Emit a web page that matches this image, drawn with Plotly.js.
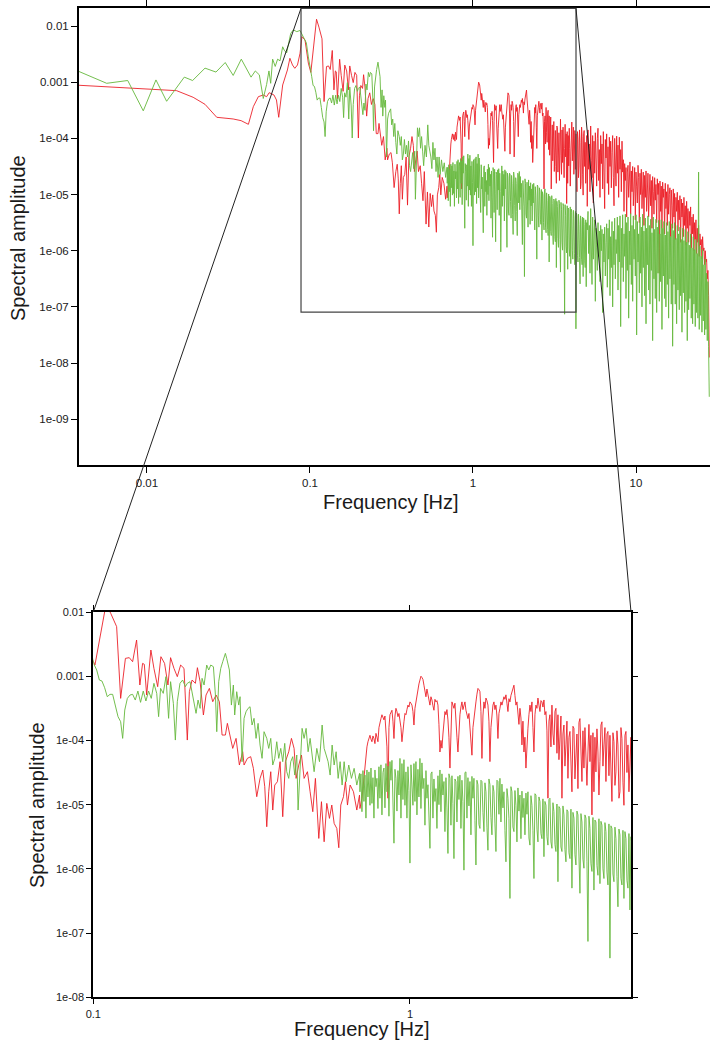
<!DOCTYPE html>
<html><head><meta charset="utf-8">
<script src="https://cdn.plot.ly/plotly-3.0.1.min.js"></script>
<style>html,body{margin:0;padding:0;overflow:hidden;background:#fff}#chart{width:760px;height:1040px}</style>
</head><body><div id="chart"></div>
<script>
// ---------------- DATA (frequency in Hz, amplitude stored as log10) ----------------
const redFreqLow = [0.00383,0.0152,0.0192,0.0227,0.0268,0.0338,0.0378,0.0419,0.0449,0.0482,
  0.0517,0.0542,0.0562,0.0601,0.0623,0.0643,0.068,0.0703,0.0727,0.0753,
  0.0781,0.0807,0.0838,0.0869,0.0893,0.0932,0.0977,0.1012];
const redLogAmpLow = [-3.055,-3.151,-3.269,-3.394,-3.625,-3.655,-3.685,-3.75,-3.436,-3.258,
  -3.228,-3.258,-3.187,-3.228,-3.317,-3.625,-3.05,-2.93,-2.783,-2.575,
  -2.694,-2.753,-2.694,-2.486,-2.19,-2.25,-2.66,-2.826];

const redFreqMid = [0.1097,0.1135,0.1185,0.1220,0.1244,0.1263,0.1299,0.1331,0.1370,0.1403,
  0.1431,0.1449,0.1474,0.1520,0.1554,0.1597,0.1635,0.1679,0.1721,0.1754,
  0.1798,0.1842,0.1887,0.1934,0.1981,0.2011,0.2051,0.2101,0.2132,0.2174,
  0.2227,0.2270,0.2326,0.2383,0.2442,0.2501,0.2551,0.2613,0.2651,0.2716,
  0.2756,0.2824,0.2893,0.2964,0.2993,0.3066,0.3141,0.3203,0.3282,0.3362,
  0.3429,0.3479,0.3530,0.3581,0.3634,0.3687,0.3741,0.3814,0.3889,0.3965,
  0.4043,0.4141,0.4224,0.4306,0.4370,0.4455,0.4543,0.4631,0.4745,0.4838,
  0.4933,0.5028,0.5153,0.5254,0.5357,0.5462,0.5569,0.5664,0.5762,0.5874,
  0.5960,0.6047,0.6166,0.6256,0.6348,0.6472,0.6631,0.6794,0.6929];
const redLogAmpMid = [-1.88,-2.021,-2.228,-3.345,-2.929,-2.722,-2.711,-2.774,-2.436,-3.137,
  -2.800,-2.815,-3.293,-2.592,-2.878,-3.163,-2.696,-2.800,-3.137,-2.711,
  -2.878,-3.007,-2.826,-2.878,-3.994,-3.241,-3.059,-3.111,-2.867,-3.085,
  -3.604,-3.293,-3.189,-3.397,-3.293,-3.397,-3.916,-3.916,-3.734,-3.968,
  -4.124,-3.968,-4.383,-4.176,-4.383,-4.279,-4.253,-4.435,-4.876,-4.591,
  -4.461,-4.721,-5.344,-4.799,-4.487,-5.084,-4.695,-4.643,-4.331,-5.188,
  -4.331,-4.176,-3.968,-4.124,-4.591,-4.383,-4.227,-4.591,-4.487,-4.799,
  -5.110,-4.591,-5.526,-4.954,-5.578,-4.980,-5.214,-5.006,-5.292,-5.370,
  -5.671,-5.006,-4.876,-4.643,-5.006,-4.695,-4.799,-5.084,-4.851];

const greenFreqLow = [0.00383,0.00566,0.00762,0.00949,0.01135,0.0132,0.01694,0.01905,0.0227,0.0265,
  0.0302,0.0338,0.0379,0.0435,0.0462,0.0489,0.0517,0.0542,0.056,0.0574,
  0.059,0.0612,0.0633,0.0655,0.068,0.0695,0.0719,0.074,0.0762,0.0791,
  0.083,0.0869,0.091,0.095,0.0977];
const greenLogAmpLow = [-2.81,-3.02,-2.97,-3.51,-2.96,-3.34,-2.91,-2.97,-2.75,-2.82,
  -2.65,-2.88,-2.59,-2.91,-2.80,-2.87,-3.29,-3.04,-2.80,-3.02,
  -2.59,-2.72,-2.59,-2.62,-2.37,-2.43,-2.48,-2.31,-2.13,-2.07,
  -2.10,-2.08,-2.19,-2.30,-2.55];

const greenFreqMid = [0.1005,0.1025,0.1045,0.1065,0.1086,0.1107,0.1129,0.1151,0.1174,0.1197,
  0.1220,0.1238,0.1257,0.1281,0.1306,0.1331,0.1357,0.1383,0.1410,0.1438,
  0.1466,0.1495,0.1524,0.1554,0.1586,0.1608,0.1631,0.1663,0.1696,0.1729,
  0.1754,0.1790,0.1816,0.1842,0.1878,0.1915,0.1953,0.1981,0.2021,0.2071,
  0.2111,0.2142,0.2174,0.2205,0.2238,0.2281,0.2315,0.2349,0.2395,0.2430,
  0.2454,0.2489,0.2526,0.2563,0.2613,0.2638,0.2690,0.2730,0.2769,0.2796,
  0.2837,0.2879,0.2907,0.2949,0.2993,0.3036,0.3081,0.3126,0.3172,0.3218,
  0.3266,0.3314,0.3362,0.3411,0.3461,0.3530,0.3581,0.3634,0.3687,0.3741,
  0.3796,0.3851,0.3908,0.3965,0.4023,0.4082,0.4141,0.4203,0.4265,0.4327,
  0.4391,0.4433,0.4499,0.4564,0.4631,0.4699,0.4768,0.4838,0.4909,0.4981,
  0.5079,0.5179,0.5280,0.5357,0.5436,0.5514,0.5596,0.5678,0.5762,0.5846,
  0.5932,0.6018,0.6106,0.6196,0.6286,0.6408,0.6534,0.6663,0.6794,0.6929];
const greenLogAmpMid = [-2.815,-2.903,-3.059,-3.075,-3.179,-3.319,-3.282,-3.282,-3.449,-3.630,
  -3.708,-3.968,-3.527,-3.345,-3.293,-3.282,-3.371,-3.231,-3.407,-3.231,
  -3.386,-3.231,-3.345,-3.111,-3.267,-3.630,-3.189,-3.267,-3.007,-3.656,
  -3.085,-3.423,-3.994,-3.397,-3.111,-3.059,-3.163,-3.111,-3.085,-3.397,
  -3.578,-3.371,-3.501,-3.033,-3.137,-2.826,-2.903,-2.826,-2.852,-3.293,
  -3.864,-3.085,-2.878,-2.774,-2.644,-2.722,-2.903,-3.449,-3.137,-3.604,
  -3.241,-3.449,-3.319,-4.331,-3.656,-3.553,-3.501,-3.475,-3.760,-3.656,
  -3.968,-3.734,-4.072,-4.279,-3.864,-3.968,-4.124,-3.968,-4.383,-4.279,
  -4.020,-4.279,-4.124,-4.331,-4.046,-4.487,-4.591,-4.331,-4.253,-4.539,
  -4.227,-5.084,-4.331,-3.812,-3.968,-3.812,-4.176,-3.968,-4.227,-4.487,
  -4.124,-4.331,-3.760,-4.124,-4.227,-4.331,-4.539,-4.072,-4.383,-4.176,
  -4.591,-4.331,-4.695,-4.331,-4.643,-4.383,-4.591,-4.435,-4.695,-4.513];

// shared frequency grid of the dense part (0.7 Hz and up)
const freqHigh = [0.6951,0.7002,0.7053,0.7104,0.7156,0.7208,0.7261,0.7314,0.7368,0.7422,
  0.7476,0.7531,0.7585,0.7640,0.7696,0.7752,0.7809,0.7866,0.7923,0.7981,
  0.8039,0.8098,0.8157,0.8217,0.8277,0.8337,0.8398,0.8459,0.8521,0.8583,
  0.8646,0.8709,0.8772,0.8836,0.8901,0.8966,0.9031,0.9097,0.9163,0.9230,
  0.9298,0.9366,0.9434,0.9503,0.9572,0.9642,0.9712,0.9783,0.9854,0.9926,
  0.9999,1.0072,1.0145,1.0219,1.0294,1.0369,1.0445,1.0521,1.0598,1.0675,
  1.0753,1.0831,1.0910,1.0990,1.1070,1.1151,1.1232,1.1314,1.1397,1.1480,
  1.1564,1.1648,1.1733,1.1819,1.1905,1.1992,1.2079,1.2167,1.2256,1.2345,
  1.2436,1.2527,1.2618,1.2710,1.2803,1.2896,1.2990,1.3085,1.3181,1.3277,
  1.3374,1.3472,1.3569,1.3668,1.3768,1.3869,1.3970,1.4072,1.4174,1.4277,
  1.4382,1.4487,1.4593,1.4700,1.4807,1.4915,1.5023,1.5133,1.5243,1.5354,
  1.5467,1.5580,1.5693,1.5808,1.5923,1.6039,1.6157,1.6275,1.6393,1.6513,
  1.6633,1.6754,1.6877,1.7000,1.7124,1.7249,1.7375,1.7502,1.7629,1.7758,
  1.7888,1.8019,1.8150,1.8282,1.8416,1.8550,1.8685,1.8821,1.8959,1.9097,
  1.9237,1.9377,1.9519,1.9661,1.9805,1.9950,2.0095,2.0242,2.0389,2.0538,
  2.0688,2.0839,2.0991,2.1144,2.1298,2.1453,2.1610,2.1768,2.1927,2.2087,
  2.2248,2.2410,2.2574,2.2739,2.2905,2.3072,2.3240,2.3410,2.3581,2.3753,
  2.3926,2.4101,2.4277,2.4454,2.4632,2.4812,2.4993,2.5175,2.5359,2.5544,
  2.5731,2.5919,2.6108,2.6299,2.6490,2.6683,2.6878,2.7074,2.7272,2.7471,
  2.7671,2.7873,2.8077,2.8282,2.8488,2.8696,2.8905,2.9116,2.9329,2.9543,
  2.9758,2.9975,3.0194,3.0414,3.0636,3.0860,3.1085,3.1312,3.1541,3.1771,
  3.2003,3.2237,3.2471,3.2708,3.2947,3.3188,3.3430,3.3674,3.3919,3.4167,
  3.4416,3.4667,3.4921,3.5176,3.5432,3.5691,3.5951,3.6213,3.6478,3.6744,
  3.7012,3.7282,3.7554,3.7828,3.8104,3.8382,3.8663,3.8945,3.9229,3.9515,
  3.9804,4.0095,4.0387,4.0682,4.0978,4.1277,4.1579,4.1883,4.2188,4.2496,
  4.2806,4.3118,4.3433,4.3750,4.4069,4.4391,4.4715,4.5041,4.5370,4.5701,
  4.6034,4.6370,4.6709,4.7050,4.7393,4.7739,4.8087,4.8438,4.8792,4.9148,
  4.9506,4.9867,5.0232,
  5.076,5.124,5.172,5.221,5.271,5.321,5.371,5.422,5.473,5.525,
  5.577,5.630,5.683,5.737,5.791,5.846,5.901,5.957,6.014,6.071,
  6.128,6.186,6.245,6.304,6.363,6.423,6.484,6.545,6.608,6.671,
  6.733,6.797,6.861,6.926,6.992,7.058,7.125,7.192,7.260,7.329,
  7.398,7.468,7.539,7.610,7.682,7.755,7.828,7.902,7.977,8.052,
  8.129,8.206,8.283,8.361,8.441,8.521,8.601,8.682,8.765,8.848,
  8.931,9.015,9.101,9.187,9.274,9.362,9.450,9.539,9.630,9.721,
  9.813,9.906,9.999,10.09,10.19,10.29,10.38,10.48,10.58,10.68,
  10.78,10.88,10.98,11.08,11.19,11.30,11.41,11.52,11.62,11.73,
  11.84,11.95,12.07,12.18,12.30,12.42,12.53,12.65,12.77,12.89,
  13.01,13.13,13.26,13.39,13.51,13.64,13.77,13.90,14.03,14.16,
  14.29,14.43,14.57,14.71,14.84,14.98,15.12,15.26,15.41,15.56,
  15.70,15.85,16.00,16.15,16.31,16.46,16.62,16.78,16.93,17.09,
  17.25,17.41,17.58,17.75,17.92,18.09,18.26,18.43,18.60,18.78,
  18.96,19.14,19.32,19.50,19.68,19.87,20.06,20.25,20.44,20.63,
  20.83,21.03,21.22,21.42,21.63,21.83,22.04,22.25,22.46,22.67,
  22.88,23.10,23.32,23.54,23.76,23.98,24.21,24.44,24.67,24.90,
  25.14,25.38,25.62,25.86,26.11,26.36,26.60,26.85,27.11,27.37,
  27.62,27.88,28.15];

const redLogAmpHigh = [-5.06,-4.98,-4.90,-4.75,-4.59,-4.35,-4.18,-4.10,-4.02,-3.95,
  -3.92,-3.98,-4.02,-3.93,-3.97,-4.05,-3.89,-3.95,-4.02,-3.80,
  -3.71,-3.66,-3.60,-3.64,-3.68,-3.62,-3.86,-4.10,-4.90,-3.80,
  -3.60,-3.56,-3.53,-3.70,-3.97,-3.62,-3.50,-3.55,-3.63,-3.58,
  -3.68,-3.80,-4.02,-3.78,-3.71,-3.58,-3.60,-3.52,-3.45,-3.48,
  -3.40,-3.42,-3.45,-3.55,-3.76,-3.50,-3.40,-3.28,-3.19,-3.12,
  -3.06,-3.00,-3.02,-3.05,-3.14,-3.22,-3.32,-3.20,-3.29,-3.36,
  -3.45,-3.32,-3.37,-3.46,-3.53,-3.36,-3.40,-3.38,-3.45,-3.75,
  -4.18,-4.00,-4.12,-3.90,-3.76,-3.55,-3.60,-3.52,-3.68,-3.95,
  -4.43,-3.70,-3.40,-3.45,-3.50,-3.42,-3.76,-3.95,-4.18,-3.82,
  -3.60,-3.48,-3.40,-3.52,-3.45,-3.40,-3.53,-3.60,-3.66,-3.58,
  -3.81,-3.95,-4.23,-3.80,-3.66,-3.45,-3.40,-3.28,-3.19,-3.21,
  -3.24,-3.55,-4.28,-3.62,-3.40,-3.50,-3.34,-3.38,-3.45,-3.70,
  -4.33,-3.80,-3.55,-3.45,-3.40,-3.52,-3.45,-3.62,-3.97,-3.58,
  -3.50,-3.40,-3.45,-3.38,-3.32,-3.36,-3.29,-3.42,-3.55,-3.35,
  -3.40,-3.30,-3.24,-3.20,-3.14,-3.30,-3.45,-3.40,-3.60,-3.75,
  -3.50,-3.65,-4.07,-3.70,-4.18,-3.95,-4.43,-4.05,-3.81,-3.60,
  -3.45,-3.55,-3.40,-3.80,-4.18,-3.60,-3.45,-3.50,-3.34,-3.45,
  -3.55,-3.38,-3.40,-3.48,-3.37,-3.60,-3.55,-3.85,-4.90,-3.70,
  -3.60,-4.10,-3.45,-3.90,-4.07,-3.55,-3.50,-4.20,-3.60,-4.30,
  -3.81,-3.62,-4.90,-3.90,-3.76,-4.40,-4.07,-3.70,-4.59,-3.95,
  -3.86,-4.50,-4.80,-3.78,-3.81,-4.60,-4.33,-3.90,-4.75,-3.72,
  -3.66,-4.30,-4.64,-3.85,-4.43,-3.80,-4.23,-4.70,-4.18,-3.75,
  -4.33,-3.92,-5.16,-3.88,-4.80,-3.95,-4.49,-3.82,-4.18,-4.85,
  -4.33,-3.76,-3.71,-4.40,-4.07,-3.80,-4.64,-3.90,-3.86,-4.55,
  -3.92,-4.60,-4.95,-3.88,-4.02,-4.70,-4.49,-3.85,-4.07,-4.90,
  -4.80,-3.80,-3.97,-4.65,-5.01,-3.92,-3.86,-4.50,-4.07,-4.80,
  -4.12,-3.95,-5.21,
  -3.85,-4.55,-4.10,-4.95,-3.78,-4.40,-4.70,-3.95,-5.15,-4.05,
  -4.62,-3.90,-4.30,-4.85,-4.00,-3.82,-4.75,-4.20,-5.05,-3.95,
  -4.45,-4.10,-4.90,-3.88,-4.60,-5.25,-4.02,-4.35,-3.92,-4.80,
  -4.15,-5.00,-3.98,-4.50,-4.05,-4.88,-4.25,-3.95,-4.70,-5.20,
  -4.00,-4.40,-4.85,-3.96,-4.62,-4.12,-5.05,-3.98,-4.55,-4.20,
  -4.95,-4.05,-4.60,-4.38,-5.30,-4.45,-4.75,-4.52,-5.40,-4.60,
  -4.48,-5.05,-4.70,-4.42,-5.35,-4.58,-4.95,-4.50,-5.20,-4.65,
  -4.52,-5.45,-4.60,-4.85,-5.15,-4.48,-4.70,-5.50,-4.62,-5.00,
  -4.55,-5.25,-4.80,-4.60,-5.55,-4.66,-5.05,-4.58,-5.30,-4.72,
  -4.62,-5.40,-4.90,-4.64,-5.20,-4.75,-5.60,-4.68,-4.95,-5.35,
  -4.70,-5.10,-4.82,-5.50,-4.72,-5.00,-4.80,-6.40,-4.76,-5.30,
  -4.85,-5.60,-4.78,-5.05,-4.90,-5.70,-4.80,-5.25,-4.95,-5.55,
  -4.82,-5.35,-5.00,-4.88,-5.75,-4.92,-5.20,-5.60,-4.90,-5.40,
  -4.98,-5.80,-5.05,-5.30,-4.96,-5.65,-5.10,-5.45,-5.02,-5.85,
  -5.08,-5.40,-5.15,-5.75,-5.05,-5.55,-5.20,-5.90,-5.12,-5.60,
  -5.25,-5.85,-5.30,-5.55,-5.22,-5.95,-5.40,-5.70,-5.35,-6.00,
  -5.50,-5.80,-5.45,-6.05,-5.60,-5.85,-5.55,-6.10,-5.70,-5.90,
  -5.80,-6.15,-5.75,-6.00,-5.95,-6.25,-6.00,-6.20,-6.15,-6.50,
  -6.35,-6.80,-7.90];

const greenLogAmpHigh = [-4.80,-4.52,-5.11,-4.47,-4.95,-4.54,-5.21,-4.46,-4.88,-4.49,
  -5.01,-4.43,-4.98,-4.58,-5.21,-4.46,-4.72,-4.59,-5.06,-4.41,
  -4.90,-4.38,-5.16,-4.50,-4.43,-5.05,-4.36,-4.80,-4.40,-5.18,
  -4.33,-4.62,-4.31,-5.01,-5.60,-4.45,-4.59,-5.10,-4.47,-4.85,
  -4.28,-5.21,-4.36,-4.92,-4.30,-5.01,-4.49,-5.21,-4.41,-4.78,
  -5.91,-4.38,-4.64,-5.01,-4.36,-4.95,-4.33,-5.16,-4.45,-4.88,
  -4.28,-5.06,-4.35,-4.75,-4.59,-5.32,-4.47,-4.90,-4.69,-5.12,
  -5.68,-4.52,-4.49,-5.21,-4.60,-4.95,-4.75,-5.37,-4.55,-5.00,
  -4.46,-5.11,-4.52,-4.85,-4.64,-5.42,-4.58,-5.05,-5.76,-4.52,
  -4.59,-5.32,-4.55,-4.98,-5.84,-4.60,-4.64,-5.27,-4.56,-4.92,
  -4.54,-5.37,-4.62,-4.95,-6.02,-4.50,-4.49,-5.21,-4.58,-5.02,
  -4.64,-5.47,-4.56,-4.90,-4.59,-5.25,-5.94,-4.62,-4.69,-5.31,
  -5.37,-4.62,-4.64,-5.12,-5.42,-4.66,-4.80,-5.35,-5.71,-4.60,
  -4.69,-5.20,-5.47,-4.70,-4.80,-5.30,-5.73,-4.62,-4.64,-5.15,
  -4.59,-5.27,-4.68,-5.05,-4.80,-5.40,-5.89,-4.75,-4.90,-5.22,
  -6.46,-4.72,-4.80,-5.35,-5.42,-4.78,-5.01,-5.58,-4.74,-5.10,
  -4.85,-5.53,-4.79,-5.20,-4.90,-5.47,-4.82,-5.15,-4.80,-5.52,
  -5.63,-4.86,-5.01,-5.40,-6.15,-4.83,-4.85,-5.38,-5.58,-4.88,
  -4.95,-5.45,-5.53,-4.91,-5.81,-4.95,-5.01,-5.50,-5.63,-4.92,
  -4.90,-5.58,-5.68,-4.97,-5.11,-5.62,-5.73,-4.99,-6.20,-5.03,
  -5.06,-5.66,-5.73,-5.02,-5.16,-5.70,-5.89,-5.08,-5.11,-5.75,
  -5.84,-5.07,-6.30,-5.12,-5.21,-5.78,-5.94,-5.10,-5.16,-5.80,
  -6.38,-5.14,-5.27,-5.85,-5.99,-5.16,-5.21,-5.88,-7.13,-5.18,
  -5.37,-5.92,-6.04,-5.20,-6.33,-5.24,-5.27,-5.95,-6.10,-5.22,
  -6.23,-5.26,-5.32,-6.00,-6.15,-5.28,-5.42,-6.05,-6.25,-5.30,
  -7.39,-5.33,-5.37,-6.08,-6.20,-5.35,-5.53,-6.12,-6.59,-5.38,
  -5.47,-6.15,-6.25,-5.40,-6.46,-5.42,-5.53,-6.18,-6.30,-5.45,
  -6.64,-5.50,-5.63,
  -5.30,-6.05,-5.55,-6.40,-5.25,-5.85,-6.60,-5.40,-6.15,-5.70,
  -5.45,-6.90,-5.60,-5.95,-6.35,-5.50,-6.10,-5.65,-6.55,-5.55,
  -6.00,-5.62,-7.10,-5.70,-6.20,-5.58,-6.45,-5.85,-5.52,-6.65,
  -5.60,-6.15,-5.45,-6.80,-5.75,-6.30,-5.48,-7.00,-5.65,-6.25,
  -5.42,-6.50,-5.80,-6.05,-5.40,-6.70,-5.55,-6.20,-5.38,-7.35,
  -5.60,-6.30,-5.36,-6.55,-5.70,-6.10,-5.35,-6.85,-5.50,-6.35,
  -5.40,-7.20,-5.65,-6.25,-5.34,-6.60,-5.55,-6.90,-5.38,-6.15,
  -5.62,-6.45,-5.36,-7.50,-5.48,-6.20,-5.70,-6.75,-5.40,-6.40,
  -5.58,-7.00,-5.35,-6.30,-5.65,-6.80,-5.42,-7.30,-5.60,-6.25,
  -5.38,-6.70,-5.55,-6.95,-5.44,-6.35,-5.68,-7.60,-5.40,-6.50,
  -5.62,-6.85,-5.44,-7.10,-5.58,-6.40,-5.46,-6.90,-5.70,-6.55,
  -5.45,-7.40,-5.60,-6.45,-5.48,-6.85,-5.72,-7.00,-5.50,-6.60,
  -5.66,-7.20,-5.48,-6.50,-5.75,-6.95,-5.52,-7.70,-5.64,-6.60,
  -5.50,-6.95,-5.78,-7.30,-5.55,-6.70,-5.70,-7.05,-5.58,-6.80,
  -5.80,-7.45,-5.60,-6.75,-5.82,-7.10,-5.62,-6.90,-5.85,-7.60,
  -5.66,-7.05,-5.90,-6.85,-5.70,-7.20,-5.95,-7.30,-5.75,-6.95,
  -5.98,-7.35,-5.80,-7.10,-6.05,-7.20,-4.60,-7.40,-5.92,-7.15,
  -6.10,-7.45,-5.98,-7.25,-6.25,-7.50,-6.15,-7.40,-6.40,-7.60,
  -6.55,-7.70,-8.60];

// zoom box drawn on the overview (data units)
const zoomBoxFreq = [0.0881, 4.285];
const zoomBoxAmpMin = 8.1e-8;

const xTickVals = [0.01, 0.1, 1, 10];
const xTickText = ['0.01', '0.1', '1', '10'];
const yTickVals = [1e-9, 1e-8, 1e-7, 1e-6, 1e-5, 1e-4, 1e-3, 1e-2];
const yTickText = ['1e-09', '1e-08', '1e-07', '1e-06', '1e-05', '1e-04', '0.001', '0.01'];
const x2TickVals = [0.1, 1];
const x2TickText = ['0.1', '1'];
const y2TickVals = [1e-8, 1e-7, 1e-6, 1e-5, 1e-4, 1e-3, 1e-2];
const y2TickText = ['1e-08', '1e-07', '1e-06', '1e-05', '1e-04', '0.001', '0.01'];

// ---------------- BUILD ----------------
const W = 760, H = 1040;
const FONT = 'Liberation Sans, Arial, Helvetica, sans-serif';
const pow10 = v => Math.pow(10, v);
const redX = redFreqLow.concat(redFreqMid, freqHigh);
const redY = redLogAmpLow.concat(redLogAmpMid, redLogAmpHigh).map(pow10);
const greenX = greenFreqLow.concat(greenFreqMid, freqHigh);
const greenY = greenLogAmpLow.concat(greenLogAmpMid, greenLogAmpHigh).map(pow10);

const RED = 'rgba(236,28,36,0.88)', GREEN = 'rgba(104,186,64,0.92)';
function tr(x, y, c, xa, ya, name) {
  return {x: x, y: y, type: 'scatter', mode: 'lines', name: name, xaxis: xa, yaxis: ya,
    line: {color: c, width: 1}, hoverinfo: 'skip'};
}
const data = [
  tr(redX, redY, RED, 'x', 'y', 'red'),
  tr(greenX, greenY, GREEN, 'x', 'y', 'green'),
  tr(redX, redY, RED, 'x2', 'y2', 'red'),
  tr(greenX, greenY, GREEN, 'x2', 'y2', 'green')
];

function axisBase(size, tl) {
  return {type: 'log', showline: true, linecolor: '#000', linewidth: 2, mirror: 'ticks',
    ticks: 'outside', ticklen: tl, tickwidth: 1, tickcolor: '#000', showgrid: false,
    zeroline: false, tickmode: 'array', tickfont: {family: FONT, size: size, color: '#1a1a1a'}};
}
const xaxis = Object.assign(axisBase(11.5, 6), {domain: [79 / W, 740 / W], range: [-2.417, 1.638],
  anchor: 'y', tickvals: xTickVals, ticktext: xTickText});
const yaxis = Object.assign(axisBase(11.5, 6), {domain: [1 - 465.3 / H, 1 - 8.3 / H], range: [-9.819, -1.685],
  anchor: 'x', tickvals: yTickVals, ticktext: yTickText});
const xaxis2 = Object.assign(axisBase(11, 5), {domain: [93.3 / W, 631 / W], range: [-1, 0.698],
  anchor: 'y2', tickvals: x2TickVals, ticktext: x2TickText});
const yaxis2 = Object.assign(axisBase(11, 5), {domain: [1 - 997.3 / H, 1 - 612 / H], range: [-8, -2],
  anchor: 'x2', tickvals: y2TickVals, ticktext: y2TickText});

function px(ax, v) { return ax.domain[0] + (Math.log10(v) - ax.range[0]) / (ax.range[1] - ax.range[0]) * (ax.domain[1] - ax.domain[0]); }
const bx0 = px(xaxis, zoomBoxFreq[0]), bx1 = px(xaxis, zoomBoxFreq[1]);
const by0 = px(yaxis, zoomBoxAmpMin), by1 = yaxis.domain[1];

const shapes = [
  {type: 'rect', xref: 'paper', yref: 'paper', x0: bx0, x1: bx1, y0: by0, y1: by1,
    line: {color: '#444', width: 1.2}},
  {type: 'line', xref: 'paper', yref: 'paper', x0: bx0, y0: by1, x1: xaxis2.domain[0], y1: yaxis2.domain[1],
    line: {color: '#222', width: 1}},
  {type: 'line', xref: 'paper', yref: 'paper', x0: bx1, y0: by1, x1: xaxis2.domain[1], y1: yaxis2.domain[1],
    line: {color: '#222', width: 1}}
];

function title(text, x, y, angle) {
  return {text: text, xref: 'paper', yref: 'paper', x: x / W, y: 1 - y / H, showarrow: false,
    textangle: angle || 0, xanchor: 'center', yanchor: 'middle',
    font: {family: FONT, size: 20, color: '#1a1a1a'}};
}
const annotations = [
  title('Frequency [Hz]', 391, 502),
  title('Spectral amplitude', 18, 238, -90),
  title('Frequency [Hz]', 362, 1029),
  title('Spectral amplitude', 37, 805, -90)
];

const layout = {width: W, height: H, margin: {l: 0, r: 0, t: 0, b: 0}, showlegend: false,
  paper_bgcolor: '#fff', plot_bgcolor: '#fff', font: {family: FONT},
  xaxis: xaxis, yaxis: yaxis, xaxis2: xaxis2, yaxis2: yaxis2, shapes: shapes, annotations: annotations};

Plotly.newPlot('chart', data, layout, {displayModeBar: false, staticPlot: true});
</script></body></html>
